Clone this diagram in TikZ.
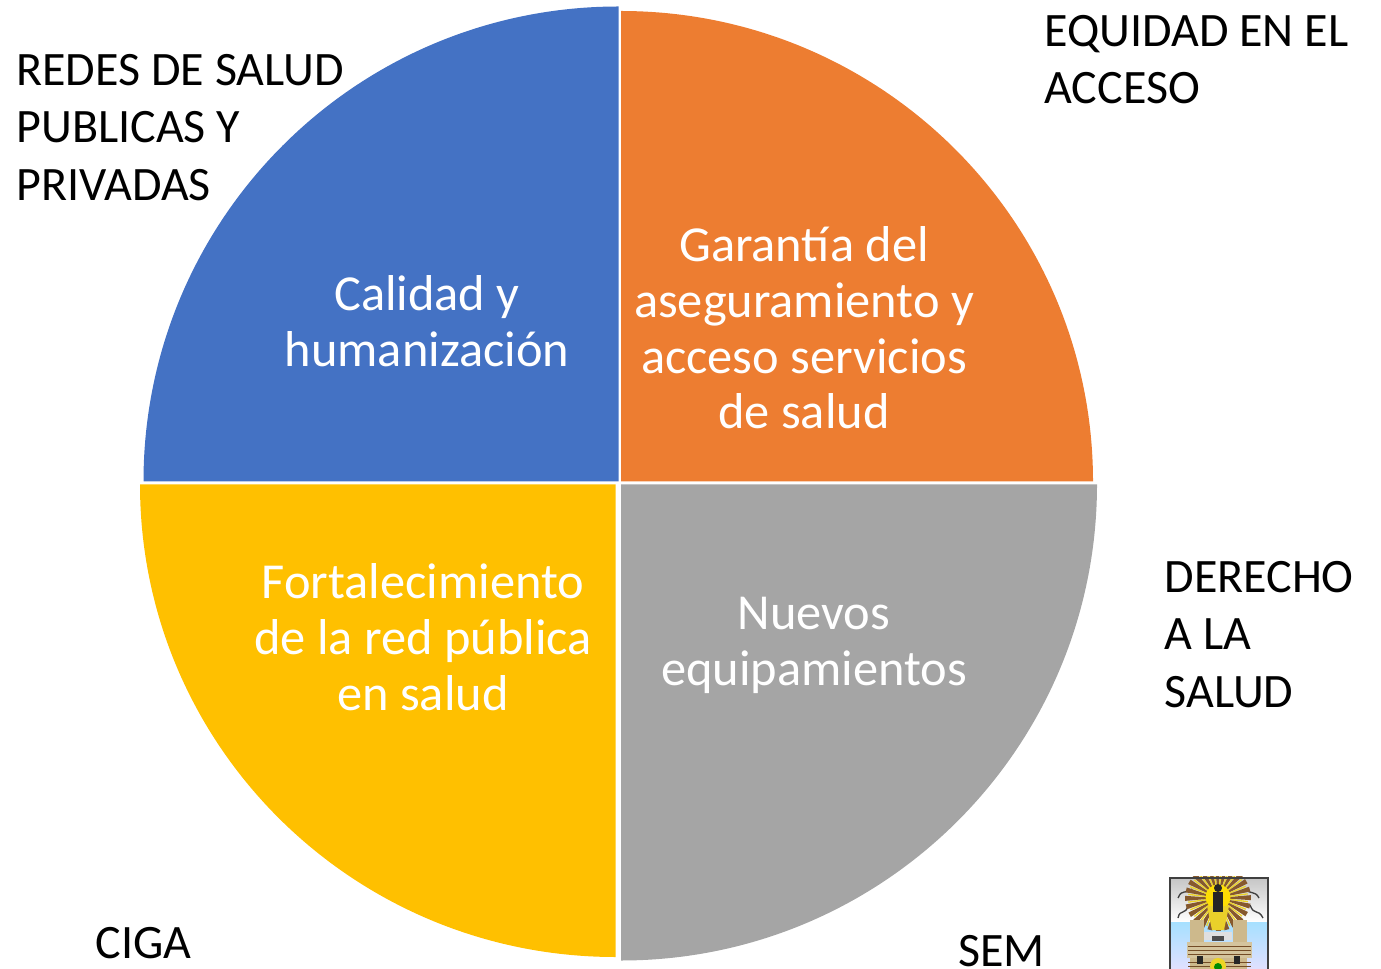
\documentclass[tikz,border=0pt]{standalone}
\usepackage{fontspec}
\setmainfont{Carlito}
\definecolor{cblue}{HTML}{4472C4}
\definecolor{corange}{HTML}{ED7D31}
\definecolor{cyellow}{HTML}{FFC000}
\definecolor{cgray}{HTML}{A5A5A5}
\definecolor{stone}{HTML}{CDB98C}
\tikzset{
  x=0.75pt,y=-0.75pt,
  lbl/.style={inner sep=0pt,outer sep=0pt,align=left,anchor=north west,text=black,font=\fontsize{36}{43.1}\selectfont},
  inlbl/.style={inner sep=0pt,outer sep=0pt,align=center,text=white,font=\fontsize{37.8}{41.8}\selectfont},
}
\begin{document}
\begin{tikzpicture}
\useasboundingbox (0,0) rectangle (1381,969);
% sectors
\fill[cblue] (618.5,481.5) -- (143.5,481.5) arc[start angle=180,end angle=90,radius=475*0.75pt] -- cycle;
\fill[corange] (621,481.5) -- (621,11) arc[start angle=90,end angle=0,x radius=472*0.75pt,y radius=470.5*0.75pt] -- cycle;
\fill[cgray] (621,484.5) -- (1097,484.5) arc[start angle=0,end angle=-90,radius=476*0.75pt] -- cycle;
\fill[cyellow] (615.5,484.5) -- (615.5,957) arc[start angle=270,end angle=180,x radius=475.5*0.75pt,y radius=472.5*0.75pt] -- cycle;
% inner labels
\node[inlbl] (calidad) at (427,321.5) {Calidad y\\humanización};
\node[inlbl] (garantia) at (804,328) {Garantía del\\aseguramiento y\\acceso servicios\\de salud};
\node[inlbl] (fortal) at (423,637) {Fortalecimiento\\de la red pública\\en salud};
\node[inlbl] (nuevos) at (814,645.5) {Nuevos\\equipamientos};
% outer labels
\node[lbl] (redes) at (16.5,54) {REDES DE SALUD\\PUBLICAS Y\\PRIVADAS};
\node[lbl] (equidad) at (1044.5,15) {EQUIDAD EN EL\\ACCESO};
\node[lbl] (derecho) at (1164.5,561) {DERECHO\\A LA\\SALUD};
\node[lbl] (ciga) at (95.5,927) {CIGA};
\node[lbl] (sem) at (958.5,935) {SEM};
% emblem
\begin{scope}
\clip (1168,876) rectangle (1269,969);
\fill[white] (1170,878) rectangle (1267,969);
\shade[top color=gray!45,bottom color=white] (1170,878) rectangle (1267,922);
\shade[top color=blue!35!cyan!35,bottom color=blue!12] (1170,922) rectangle (1267,969);
% clouds
\draw[gray!50!black,line width=1pt] (1178,898) .. controls (1182,888) and (1186,895) .. (1192,889);
\draw[gray!50!black,line width=1pt] (1178,918) .. controls (1180,908) and (1186,916) .. (1188,905);
\draw[gray!50!black,line width=1pt] (1259,898) .. controls (1255,890) and (1250,895) .. (1246,889);
\draw[gray!50!black,line width=1pt] (1263,918) .. controls (1258,908) and (1254,916) .. (1250,905);
% rays
\foreach \a in {0,15,...,345}{
  \fill[brown!70!black] (1218,898) -- ++(\a-5:33) -- ++(\a+90:5) -- cycle;
  \draw[yellow!70!brown,line width=1pt] (1218,898) -- ++(\a+7:30);
}
\fill[yellow!80!orange] (1218,897) circle[radius=12.5*0.75pt];
\fill[yellow!65!brown] (1207,906) -- (1229,906) -- (1224,930) -- (1212,930) -- cycle;
\fill[black!85] (1218,888) circle[radius=4*0.75pt];
\fill[black!85] (1213,892) rectangle (1223,912);
% tower
\fill[stone] (1190,920) rectangle (1204,942);
\fill[stone] (1233,920) rectangle (1247,942);
\fill[gray!25] (1204,932) -- (1232,932) -- (1232,940) -- (1204,940) -- cycle;
\fill[black!70] (1212,936) rectangle (1224,941);
\fill[stone!85!white] (1187,942) rectangle (1252,958);
\fill[stone] (1190,958) rectangle (1247,969);
\foreach \yy in {946,950,954,962,966}{
  \draw[brown!60!black,line width=0.4pt] (1188,\yy) -- (1251,\yy);
}
\fill[black!85] (1197,956) rectangle (1203,964);
\fill[black!85] (1234,956) rectangle (1240,964);
\fill[yellow!70!brown] (1218,966) circle[radius=8*0.75pt];
\fill[green!55!black] (1218,967) circle[radius=4*0.75pt];
\end{scope}
\draw[black!75,line width=1.5pt] (1169.5,969) -- (1169.5,877.5) -- (1267.5,877.5) -- (1267.5,969);
\end{tikzpicture}
\end{document}
